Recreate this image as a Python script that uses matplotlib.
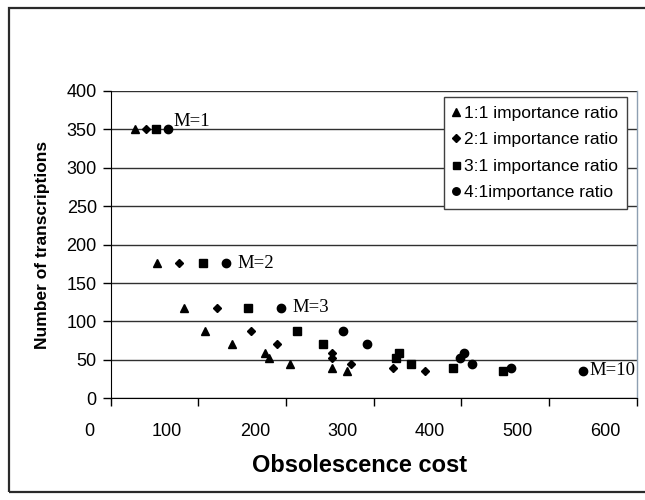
import matplotlib
matplotlib.use("Agg")
import matplotlib.pyplot as plt
from matplotlib.patches import Rectangle
from matplotlib.transforms import ScaledTranslation

# ---- data ----
n_transcriptions = [350, 176, 118, 88, 71, 59, 52, 44, 40, 36]
cost_1to1 = [28, 53, 84, 107, 138, 176, 181, 205, 253, 269]
cost_2to1 = [40, 78, 121, 160, 190, 253, 253, 274, 322, 359]
cost_3to1 = [52, 105, 157, 212, 242, 329, 325, 343, 390, 448]
cost_4to1 = [65, 131, 194, 265, 292, 403, 398, 412, 457, 539]
series_labels = ["1:1 importance ratio", "2:1 importance ratio",
                 "3:1 importance ratio", "4:1importance ratio"]
m_labels = ["M=1", "M=2", "M=3", "M=10"]
m_label_index = [0, 1, 2, 9]
x_ticks = [0, 100, 200, 300, 400, 500, 600]
y_ticks = [0, 50, 100, 150, 200, 250, 300, 350, 400]

W, H = 645, 500
fig = plt.figure(figsize=(W / 100, H / 100), dpi=100)
fig.patch.set_facecolor("white")

# outer chart frame
fig.patches.append(Rectangle((9 / W, 1 - 492 / H), 1.2, (492 - 8) / H,
                             transform=fig.transFigure, fill=False,
                             edgecolor="#2a2a2a", linewidth=1.6))

left, right = 110.7 / W, 636.7 / W
bottom, top = 1 - 398.3 / H, 1 - 91 / H
ax = fig.add_axes([left, bottom, right - left, top - bottom])
ax.set_xlim(0, 600)
ax.set_ylim(0, 400)

sans = ["Liberation Sans", "DejaVu Sans"]
serif = ["Liberation Serif", "DejaVu Serif"]

ax.set_yticks(y_ticks)
ax.set_xticks(x_ticks)
ax.tick_params(axis="both", direction="out", length=6, width=1, color="black")
ax.tick_params(axis="y", pad=4)
ax.tick_params(axis="x", pad=12)
ax.set_yticklabels([str(v) for v in y_ticks], fontsize=13, family=sans)
ax.set_xticklabels([str(v) for v in x_ticks], fontsize=13, family=sans, ha="right")
offset = ScaledTranslation(-16 / 100, 0, fig.dpi_scale_trans)
for lbl in ax.get_xticklabels():
    lbl.set_transform(lbl.get_transform() + offset)

ax.grid(axis="y", color="#303030", linewidth=1)
ax.set_axisbelow(True)
ax.spines["top"].set_visible(False)
ax.spines["right"].set_color("#8e9fb2")
ax.spines["right"].set_linewidth(1)
ax.spines["left"].set_color("black")
ax.spines["bottom"].set_color("black")

markers = ["^", "D", "s", "o"]
sizes = [6.2, 4.0, 5.6, 6.0]
series = [cost_1to1, cost_2to1, cost_3to1, cost_4to1]
for xs, mk, ms, lab in zip(series, markers, sizes, series_labels):
    ax.plot(xs, n_transcriptions, linestyle="none", marker=mk, markersize=ms,
            color="black", label=lab, clip_on=False)

for txt, i in zip(m_labels, m_label_index):
    dy = 8 if i == 0 else 0
    dx = 6 if i in (0, 9) else 12
    ax.annotate(txt, (cost_4to1[i], n_transcriptions[i]),
                xytext=(dx, dy), textcoords="offset pixels",
                ha="left", va="center", fontsize=13.5, family=serif)

leg = ax.legend(loc="upper left", bbox_to_anchor=(444 / W, 1 - 97 / H),
                bbox_transform=fig.transFigure, borderaxespad=0,
                prop={"family": sans, "size": 12.5}, frameon=True, fancybox=False,
                edgecolor="#404040", handlelength=0.4, handletextpad=0.25,
                labelspacing=0.65, borderpad=0.5, markerscale=0.9)
leg.get_frame().set_linewidth(1)
leg.get_frame().set_alpha(1)

ax.set_ylabel("Number of transcriptions", fontsize=12.5, fontweight="bold", family=sans)
ax.yaxis.set_label_coords((43 - 110.7) / 526, 0.5)
ax.set_xlabel("Obsolescence cost", fontsize=17, fontweight="bold", family=sans)
ax.xaxis.set_label_coords((360 - 110.7) / 526, (398.3 - 465) / 307.3)
ax.xaxis.label.set_va("center")
ax.yaxis.label.set_va("center")

fig.savefig("out.png", dpi=100)
